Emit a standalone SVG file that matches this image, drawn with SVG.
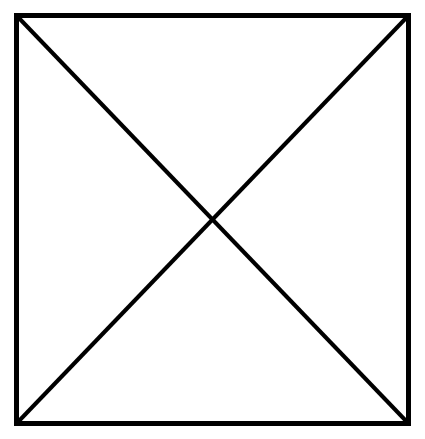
<svg xmlns="http://www.w3.org/2000/svg" width="425" height="439" viewBox="0 0 425 439">
<style>
.s{fill:none;stroke:#000;stroke-width:5;stroke-linecap:square;}
.d{stroke:#000;stroke-width:4;}
</style>
<rect width="425" height="439" fill="#fff"/>
<g id="box">
<rect class="s" x="16.5" y="15.5" width="392" height="408"/>
</g>
<g id="connectors">
<line class="d" x1="16.5" y1="15.5" x2="408.5" y2="423.5"/>
<line class="d" x1="408.5" y1="15.5" x2="16.5" y2="423.5"/>
</g>
</svg>
